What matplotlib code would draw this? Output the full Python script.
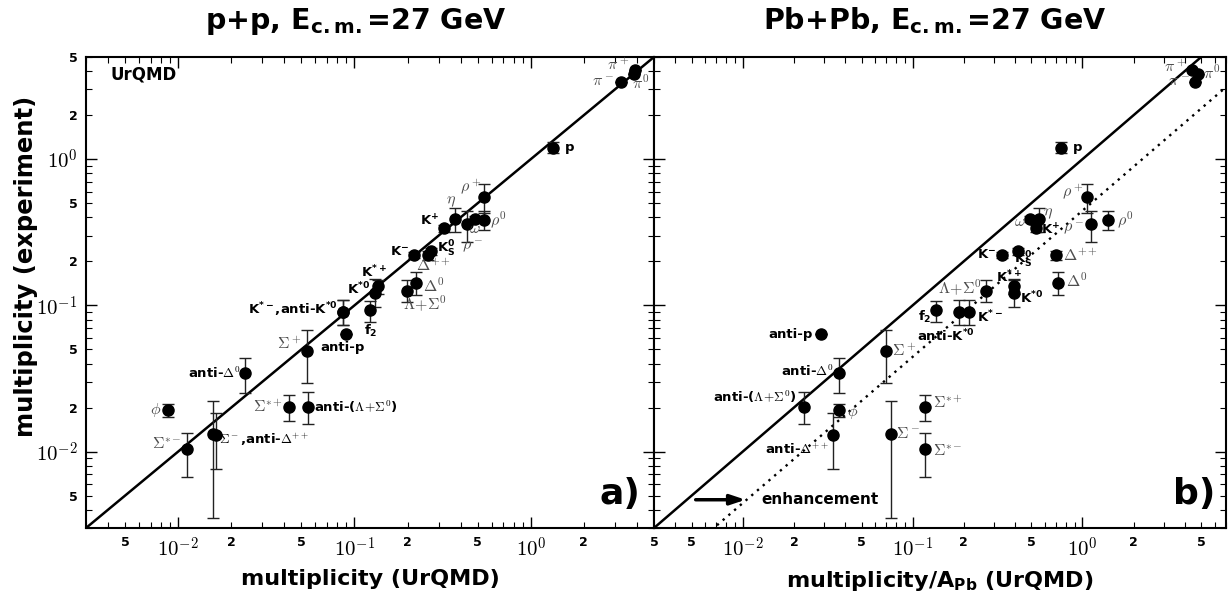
"""Particle multiplicities: experiment vs UrQMD for p+p and Pb+Pb at 27 GeV."""

import numpy as np
import matplotlib

matplotlib.use("Agg")
import matplotlib.pyplot as plt

plt.rcParams["font.family"] = ["DejaVu Sans"]
plt.rcParams["mathtext.fontset"] = "dejavusans"

# --- data -----------------------------------------------------------------
particles = ["pi+", "pi0", "pi-", "p", "rho+", "eta", "K+", "omega", "rho-",
             "rho0", "K-", "K0s", "Delta++", "Delta0", "Lambda+Sigma0", "K*+",
             "K*0", "f2", "K*-", "antiK*0", "antip", "Sigma+", "antiDelta0",
             "Sigma*+", "anti(Lambda+Sigma0)", "phi", "Sigma-", "antiDelta++",
             "Sigma*-"]

# experimental multiplicity (same values in both panels)
y_exp = [4.08, 3.83, 3.38, 1.20, 0.555, 0.39, 0.336, 0.39, 0.36, 0.386, 0.22,
         0.234, 0.22, 0.1415, 0.125, 0.135, 0.121, 0.0925, 0.0897, 0.0897,
         0.0635, 0.0486, 0.0344, 0.0202, 0.0202, 0.0192, 0.0132, 0.013, 0.0104]
y_low = [4.08, 3.83, 3.38, 1.10, 0.43, 0.32, 0.32, 0.37, 0.27, 0.33, 0.21,
         0.222, 0.205, 0.117, 0.105, 0.12, 0.097, 0.077, 0.0735, 0.0735,
         0.0635, 0.0294, 0.0251, 0.0162, 0.0155, 0.0173, 0.0035, 0.0076, 0.0067]
y_high = [4.08, 3.83, 3.38, 1.31, 0.68, 0.466, 0.352, 0.41, 0.445, 0.44, 0.23,
          0.246, 0.235, 0.17, 0.15, 0.15, 0.151, 0.107, 0.108, 0.108,
          0.0635, 0.0675, 0.0435, 0.0243, 0.0256, 0.0211, 0.0222, 0.0184, 0.0133]

# UrQMD multiplicity, p+p
x_pp = [3.88, 3.83, 3.24, 1.33, 0.542, 0.371, 0.321, 0.482, 0.434, 0.542, 0.217,
        0.271, 0.261, 0.223, 0.198, 0.136, 0.131, 0.122, 0.086, 0.086, 0.0895,
        0.0538, 0.024, 0.0426, 0.0545, 0.00878, 0.0158, 0.0164, 0.01125]

# UrQMD multiplicity / A_Pb, Pb+Pb
x_pb = [4.44, 4.81, 4.62, 0.752, 1.07, 0.558, 0.536, 0.488, 1.13, 1.42, 0.334,
        0.415, 0.694, 0.722, 0.272, 0.393, 0.393, 0.138, 0.216, 0.187, 0.0288,
        0.0694, 0.0367, 0.119, 0.0229, 0.0367, 0.0743, 0.0339, 0.119]

enhancement_factor = 2.25
axis_min = 3e-3
xmax_pp = 5.0
xmax_pb = 7.0
ymax = 5.0

# label text per point: (index, text, dx px, dy px, ha, kind)
# kind: g = grey greek, b = bold sans, m = bold text with greek math
labels_pp = [
    (0, r"$\pi^+$", -5, 5, "right", "g"),
    (1, r"$\pi^0$", -2, -9, "left", "g"),
    (2, r"$\pi^-$", -7, 0, "right", "g"),
    (3, "p", 12, 0, "left", "b"),
    (4, r"$\rho^+$", -2, 10, "right", "g"),
    (5, r"$\eta$", -4, 17, "center", "g"),
    (6, r"K$^{\mathbf{+}}$", -5, 7, "right", "b"),
    (7, r"$\omega$", 0, -10, "center", "g"),
    (8, r"$\rho^-$", 6, -23, "center", "g"),
    (9, r"$\rho^0$", 6, 0, "left", "g"),
    (10, r"K$^{\mathbf{-}}$", -5, 4, "right", "b"),
    (11, r"K$^{\mathbf{0}}_{\mathbf{S}}$", 6, 2, "left", "b"),
    (12, r"$\Delta^{++}$", 5, -10, "center", "g"),
    (13, r"$\Delta^0$", 7, -2, "left", "g"),
    (14, r"$\Lambda\!+\!\Sigma^0$", -4, -13, "left", "g"),
    (15, r"K$^{\mathbf{*+}}$", -4, 14, "center", "b"),
    (16, r"K$^{\mathbf{*0}}$", -5, 4, "right", "b"),
    (17, r"f$_{\mathbf{2}}$", 1, -21, "center", "b"),
    (18, r"K$^{\mathbf{*-}}$,anti-K$^{\mathbf{*0}}$", -5, 3, "right", "b"),
    (20, "anti-p", -3, -13, "center", "b"),
    (21, r"$\Sigma^+$", -6, 7, "right", "g"),
    (22, r"anti-$\Delta^0$", -5, 0, "right", "m"),
    (23, r"$\Sigma^{*+}$", -6, 0, "right", "g"),
    (24, r"anti-($\Lambda\!+\!\Sigma^0$)", 6, 0, "left", "m"),
    (25, r"$\phi$", -7, 0, "right", "g"),
    (26, r"$\Sigma^-$,anti-$\Delta^{++}$", 6, -6, "left", "m"),
    (28, r"$\Sigma^{*-}$", -6, 5, "right", "g"),
]

labels_pb = [
    (0, r"$\pi^+$", -6, 3, "right", "g"),
    (1, r"$\pi^0$", 5, 1, "left", "g"),
    (2, r"$\pi^-$", -6, 0, "right", "g"),
    (3, "p", 11, 0, "left", "b"),
    (4, r"$\rho^+$", -4, 5, "right", "g"),
    (5, r"$\eta$", 4, 5, "left", "g"),
    (6, r"K$^{\mathbf{+}}$", 5, -2, "left", "b"),
    (7, r"$\omega$", -4, -3, "right", "g"),
    (8, r"$\rho^-$", -7, -5, "right", "g"),
    (9, r"$\rho^0$", 9, 0, "left", "g"),
    (10, r"K$^{\mathbf{-}}$", -5, 1, "right", "b"),
    (11, r"K$^{\mathbf{0}}_{\mathbf{S}}$", -4, -9, "left", "b"),
    (12, r"$\Delta^{++}$", 7, 0, "left", "g"),
    (13, r"$\Delta^0$", 8, 3, "left", "g"),
    (14, r"$\Lambda\!+\!\Sigma^0$", -5, 3, "right", "g"),
    (15, r"K$^{\mathbf{*+}}$", -5, 9, "center", "b"),
    (16, r"K$^{\mathbf{*0}}$", 6, -5, "left", "b"),
    (17, r"f$_{\mathbf{2}}$", -5, -7, "right", "b"),
    (18, r"K$^{\mathbf{*-}}$", 8, -5, "left", "b"),
    (19, r"anti-K$^{\mathbf{*0}}$", -13, -24, "center", "b"),
    (20, "anti-p", -8, 0, "right", "b"),
    (21, r"$\Sigma^+$", 6, 0, "left", "g"),
    (22, r"anti-$\Delta^0$", -5, 2, "right", "m"),
    (23, r"$\Sigma^{*+}$", 8, 4, "left", "g"),
    (24, r"anti-($\Lambda\!+\!\Sigma^0$)", -7, 10, "right", "m"),
    (25, r"$\phi$", 8, -2, "left", "g"),
    (26, r"$\Sigma^-$", 5, 0, "left", "g"),
    (27, r"anti-$\Delta^{++}$", -4, -15, "right", "m"),
    (28, r"$\Sigma^{*-}$", 8, -2, "left", "g"),
]


def log_ticks(lo, hi):
    """Major/minor tick positions and labels for a log axis."""
    major, major_lab, minor, minor_lab = [], [], [], []
    for e in range(-4, 2):
        for m in range(1, 10):
            v = m * 10.0 ** e
            if v < lo * 0.999 or v > hi * 1.001:
                continue
            if m == 1:
                major.append(v)
                major_lab.append(r"$10^{%d}$" % e)
            else:
                minor.append(v)
                minor_lab.append(str(m) if m in (2, 5) else "")
    return major, major_lab, minor, minor_lab


def setup_axis(ax, xmax, show_ylabels):
    ax.set_xscale("log")
    ax.set_yscale("log")
    ax.set_xlim(axis_min, xmax)
    ax.set_ylim(axis_min, ymax)

    mj, mjl, mn, mnl = log_ticks(axis_min, xmax)
    ax.set_xticks(mj, mjl, fontsize=15, math_fontfamily="cm")
    ax.set_xticks(mn, mnl, minor=True, fontsize=9, fontweight="bold")
    mj, mjl, mn, mnl = log_ticks(axis_min, ymax)
    ax.set_yticks(mj, mjl, fontsize=15, math_fontfamily="cm")
    ax.set_yticks(mn, mnl, minor=True, fontsize=9, fontweight="bold")

    ax.tick_params(which="both", direction="in", top=True, right=True,
                   labelleft=show_ylabels, pad=6)
    ax.tick_params(which="major", length=8, width=1.0)
    ax.tick_params(which="minor", length=4, width=0.8)
    for s in ax.spines.values():
        s.set_linewidth(1.5)


def draw_points(ax, x, labels):
    y = np.asarray(y_exp)
    yerr = [y - np.asarray(y_low), np.asarray(y_high) - y]
    ax.errorbar(x, y, yerr=yerr, fmt="o", color="black", ms=8,
                ecolor="#222222", elinewidth=1.0, capsize=4, capthick=1.0,
                zorder=3)
    for i, text, dx, dy, ha, kind in labels:
        kw = dict(xy=(x[i], y[i]), xytext=(dx, dy), textcoords="offset pixels",
                  ha=ha, va="center", zorder=4)
        if kind == "g":
            ax.annotate(text, color="#4d4d4d", fontsize=11.5,
                        math_fontfamily="cm", **kw)
        elif kind == "m":
            ax.annotate(text, color="black", fontsize=9.5, fontweight="bold",
                        math_fontfamily="cm", **kw)
        else:
            ax.annotate(text, color="black", fontsize=9.5, fontweight="bold",
                        **kw)


fig = plt.figure(figsize=(12.3, 6.01), dpi=100)
ax1 = fig.add_axes([86 / 1230, 73 / 601, 568 / 1230, 471 / 601])
ax2 = fig.add_axes([654 / 1230, 73 / 601, 572 / 1230, 471 / 601])

# panel a: p+p
setup_axis(ax1, xmax_pp, True)
diag = np.array(ax1.get_xlim())
ax1.plot(diag, diag, color="black", lw=1.8, zorder=2)
draw_points(ax1, x_pp, labels_pp)
ax1.text(0.044, 0.962, "UrQMD", transform=ax1.transAxes, ha="left",
         va="center", fontsize=12, fontweight="bold")
ax1.text(0.94, 0.072, "a)", transform=ax1.transAxes, ha="center",
         va="center", fontsize=26, fontweight="bold")
ax1.set_xlabel("multiplicity (UrQMD)", fontsize=16, fontweight="bold",
               labelpad=6)
ax1.set_ylabel("multiplicity (experiment)", fontsize=17.5, fontweight="bold")
ax1.yaxis.set_label_coords(-0.085, 0.555)

# panel b: Pb+Pb
setup_axis(ax2, xmax_pb, False)
diag = np.array(ax2.get_xlim())
ax2.plot(diag, diag, color="black", lw=1.8, zorder=2)
ax2.plot(diag, diag / enhancement_factor, color="black", lw=1.7,
         ls=(0, (1, 2.2)), zorder=2)
draw_points(ax2, x_pb, labels_pb)
ax2.annotate("", xy=(0.165, 0.06), xytext=(0.068, 0.06),
             xycoords="axes fraction",
             arrowprops=dict(arrowstyle="-|>,head_length=0.9,head_width=0.3",
                             color="black", lw=2.5))
ax2.text(0.187, 0.06, "enhancement", transform=ax2.transAxes, ha="left",
         va="center", fontsize=11, fontweight="bold")
ax2.text(0.945, 0.072, "b)", transform=ax2.transAxes, ha="center",
         va="center", fontsize=26, fontweight="bold")
ax2.set_xlabel(r"multiplicity/A$_{\mathbf{Pb}}$ (UrQMD)", fontsize=16,
               fontweight="bold", labelpad=6)

fig.text(0.289, 0.965, r"p+p, E$_{\mathbf{c.m.}}$=27 GeV", ha="center",
         va="center", fontsize=20.5, fontweight="bold")
fig.text(0.760, 0.965, r"Pb+Pb, E$_{\mathbf{c.m.}}$=27 GeV", ha="center",
         va="center", fontsize=20.5, fontweight="bold")

fig.savefig("out.png", dpi=100)
